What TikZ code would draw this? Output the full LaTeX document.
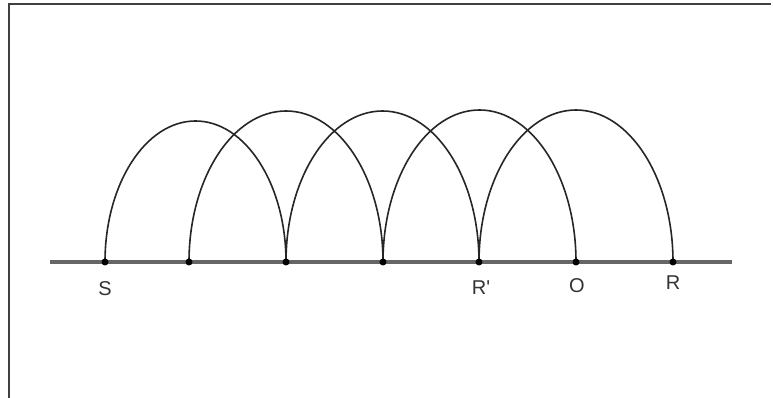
\documentclass[tikz,border=0pt]{standalone}
\usepackage{fontspec}
\setmainfont{Liberation Sans}
\begin{document}
\begin{tikzpicture}[x=1pt,y=1pt,
  dotnode/.style={circle,fill=black,inner sep=0pt,minimum size=7pt},
  archline/.style={draw=black!85,line width=1.6pt},
  baseline/.style={draw=black!60,line width=3.2pt},
  framel/.style={draw=black!75,line width=1.6pt},
  lbl/.style={font=\fontsize{20}{20}\selectfont,text=black!80,inner sep=0pt}]
\useasboundingbox (0,0) rectangle (773,398);
\fill[white] (0,0) rectangle (773,398);
% frame
\coordinate (fbl) at (9,0);
\coordinate (ftl) at (9,394);
\coordinate (ftr) at (771,394);
\draw[framel] (fbl) -- (ftl) -- (ftr);
% baseline
\coordinate (L) at (50,136);
\coordinate (Rend) at (732,136);
\draw[baseline] (L) -- (Rend);
% points
\coordinate (S) at (105,136);
\coordinate (P2) at (189,136);
\coordinate (P3) at (286,136);
\coordinate (P4) at (383,136);
\coordinate (Rp) at (479,136);
\coordinate (O) at (576,136);
\coordinate (R) at (673,136);
% arches
\draw[archline] (S) arc[start angle=180,end angle=0,x radius=90.5,y radius=141];
\draw[archline] (P2) arc[start angle=180,end angle=0,x radius=97,y radius=151];
\draw[archline] (P3) arc[start angle=180,end angle=0,x radius=96.5,y radius=151];
\draw[archline] (P4) arc[start angle=180,end angle=0,x radius=96.5,y radius=152];
\draw[archline] (Rp) arc[start angle=180,end angle=0,x radius=97,y radius=152];
% dots
\foreach \p in {S,P2,P3,P4,Rp,O,R} \node[dotnode] (d\p) at (\p) {};
% labels
\node[lbl] (lS) at (105,109) {S};
\node[lbl] (lRp) at (481,110) {R\textquotesingle};
\node[lbl] (lO) at (577,112) {O};
\node[lbl] (lR) at (673,115) {R};
\end{tikzpicture}
\end{document}
